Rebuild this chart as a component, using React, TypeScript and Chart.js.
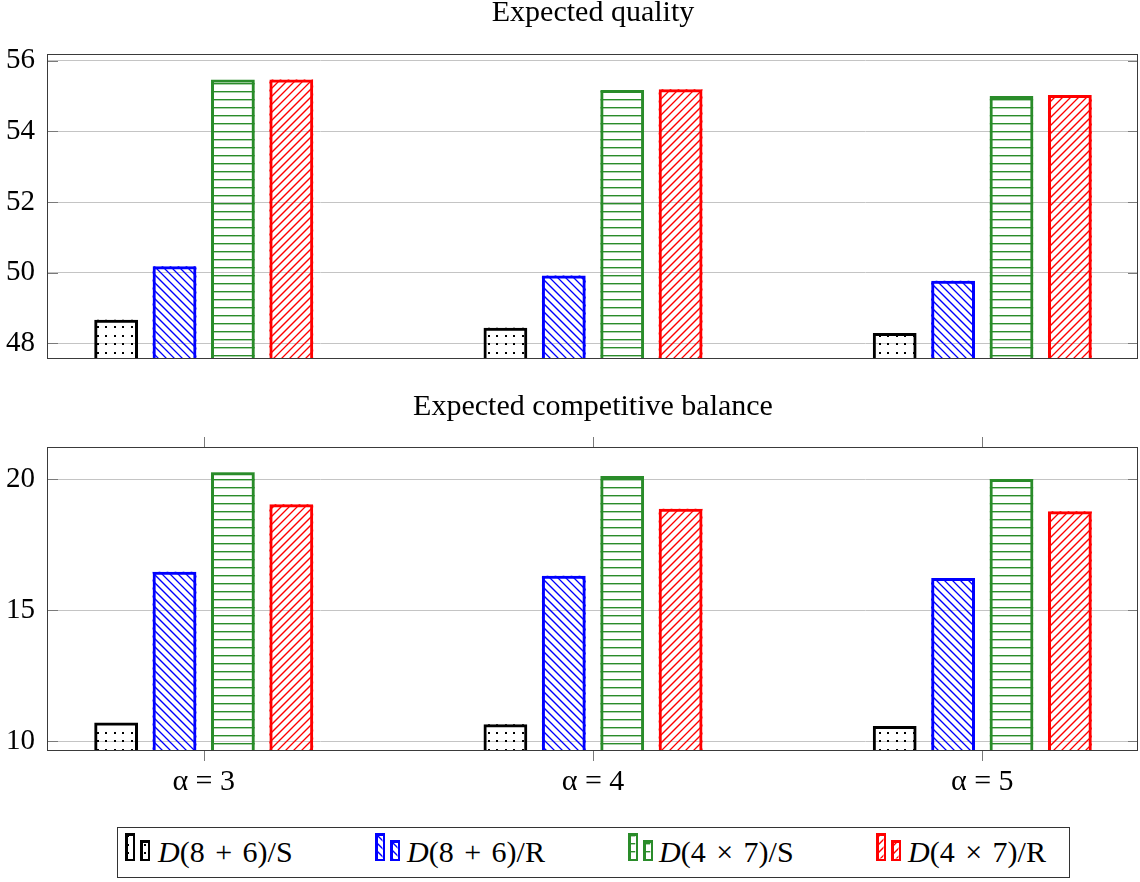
import React, { useEffect, useRef } from "react";
import { Chart, registerables } from "chart.js";

Chart.register(...registerables);

// ---------- data ----------
const alphas = [3, 4, 5];
const seriesNames = ["D(8 + 6)/S", "D(8 + 6)/R", "D(4 × 7)/S", "D(4 × 7)/R"];

const qualityD86S = [48.67, 48.44, 48.29];
const qualityD86R = [50.18, 49.92, 49.77];
const qualityD47S = [55.47, 55.17, 55.0];
const qualityD47R = [55.47, 55.19, 55.03];

const balanceD86S = [10.71, 10.64, 10.57];
const balanceD86R = [16.47, 16.31, 16.23];
const balanceD47S = [20.27, 20.13, 20.01];
const balanceD47R = [19.05, 18.87, 18.78];

const qualityTicks = [48, 50, 52, 54, 56];
const balanceTicks = [10, 15, 20];

const qualityTitle = "Expected quality";
const balanceTitle = "Expected competitive balance";

// ---------- styles ----------
const FONT = '"Liberation Serif", "Times New Roman", serif';
const seriesColors = ["#000000", "#0000ff", "#2a8c2a", "#ff0000"];
const seriesPatterns = ["dots", "nwlines", "hlines", "nelines"];

// draw a hatch pattern inside a rectangle (clipped), anchored to the canvas origin
function drawHatch(
  g: CanvasRenderingContext2D,
  kind: string,
  color: string,
  x0: number,
  y0: number,
  x1: number,
  y1: number
) {
  if (x1 <= x0 || y1 <= y0) return;
  g.save();
  g.beginPath();
  g.rect(x0, y0, x1 - x0, y1 - y0);
  g.clip();
  g.fillStyle = color;
  g.strokeStyle = color;
  g.lineWidth = 1.3;
  if (kind === "dots") {
    const s = 8.5;
    for (let gy = Math.floor(y0 / s) * s; gy < y1; gy += s) {
      for (let gx = Math.floor(x0 / s) * s; gx < x1; gx += s) {
        g.fillRect(Math.round(gx + 3), Math.round(gy + 3), 2, 2);
      }
    }
  } else if (kind === "hlines") {
    const s = 8;
    for (let gy = Math.floor(y0 / s) * s; gy < y1; gy += s) {
      g.fillRect(x0, gy + 3, x1 - x0, 1.4);
    }
  } else if (kind === "nwlines") {
    const s = 8;
    g.beginPath();
    for (let c = Math.floor((y0 - x1) / s) * s - s; c < y1 - x0 + s; c += s) {
      g.moveTo(x0 - 2, x0 - 2 + c);
      g.lineTo(x1 + 2, x1 + 2 + c);
    }
    g.stroke();
  } else {
    const s = 8;
    g.beginPath();
    for (let c = Math.floor((x0 + y0) / s) * s - s; c < x1 + y1 + s; c += s) {
      g.moveTo(x0 - 2, c - x0 + 2);
      g.lineTo(x1 + 2, c - x1 - 2);
    }
    g.stroke();
  }
  g.restore();
}

const hatchPlugin = {
  id: "hatch",
  beforeDatasetDraw(chart: any, args: any) {
    const idx = args.index;
    const meta = chart.getDatasetMeta(idx);
    const { ctx, chartArea } = chart;
    for (const el of meta.data) {
      const p = el.getProps(["x", "y", "base", "width"], true);
      const left = p.x - p.width / 2;
      const right = p.x + p.width / 2;
      const top = Math.max(Math.min(p.y, p.base), chartArea.top);
      const bottom = Math.min(Math.max(p.y, p.base), chartArea.bottom);
      drawHatch(ctx, seriesPatterns[idx], seriesColors[idx], left, top, right, bottom);
    }
  },
};

const framePlugin = {
  id: "frame",
  afterDatasetsDraw(chart: any, _args: any, opts: any) {
    const { ctx, chartArea } = chart;
    const left = Math.round(chartArea.left);
    const right = Math.round(chartArea.right);
    const top = Math.round(chartArea.top);
    const bottom = Math.round(chartArea.bottom);
    ctx.save();
    ctx.lineWidth = 1;
    ctx.strokeStyle = "#7a7a7a";
    const ys = chart.scales.y;
    ctx.beginPath();
    for (const t of ys.ticks) {
      const y = Math.round(ys.getPixelForValue(t.value)) + 0.5;
      ctx.moveTo(left, y);
      ctx.lineTo(left + 10, y);
      ctx.moveTo(right - 10, y);
      ctx.lineTo(right, y);
    }
    if (opts && opts.xTicks) {
      const xs = chart.scales.x;
      for (const t of xs.ticks) {
        const x = Math.round(xs.getPixelForValue(t.value)) + 0.5;
        ctx.moveTo(x, top - 11);
        ctx.lineTo(x, top);
        ctx.moveTo(x, bottom);
        ctx.lineTo(x, bottom + 10);
      }
    }
    ctx.stroke();
    ctx.strokeStyle = "#3a3a3a";
    ctx.strokeRect(left - 0.5, top - 0.5, right - left, bottom - top);
    ctx.restore();
  },
};

type PanelProps = {
  title: string;
  values: number[][];
  yMin: number;
  yMax: number;
  yTicks: number[];
  showX: boolean;
  height: number;
  titleTop: number;
  titleBottom: number;
  bottomPad: number;
};

function Panel(p: PanelProps) {
  const ref = useRef<HTMLCanvasElement>(null);
  useEffect(() => {
    const canvas = ref.current!;
    const chart = new Chart(canvas, {
      type: "bar",
      data: {
        labels: alphas,
        datasets: p.values.map((vals, i) => ({
          label: seriesNames[i],
          data: vals,
          backgroundColor: "rgba(0,0,0,0)",
          borderColor: seriesColors[i],
          borderWidth: 3,
          borderSkipped: false,
          barPercentage: 0.75,
          categoryPercentage: 0.6,
        })),
      },
      options: {
        responsive: false,
        animation: false,
        events: [],
        layout: { padding: { left: 0, right: 2, top: 0, bottom: p.bottomPad } },
        plugins: {
          legend: { display: false },
          tooltip: { enabled: false },
          title: {
            display: true,
            text: p.title,
            color: "#000",
            fullSize: false,
            font: { family: FONT, size: 30, weight: "normal", lineHeight: 0.9 },
            padding: { top: p.titleTop, bottom: p.titleBottom },
          },
          frame: { xTicks: p.showX },
        } as any,
        scales: {
          x: {
            type: "linear",
            min: 2.6,
            max: 5.4,
            offset: false,
            display: p.showX,
            grid: { display: false, drawTicks: false },
            border: { display: false },
            afterBuildTicks: (s: any) => {
              s.ticks = alphas.map((v) => ({ value: v }));
            },
            afterFit: (s: any) => {
              s.height = p.showX ? 60 : 0;
            },
            ticks: {
              padding: 13,
              color: "#000",
              maxRotation: 0,
              font: { family: FONT, size: 30 },
              callback: (v: any) => `α = ${v}`,
            },
          },
          y: {
            type: "linear",
            min: p.yMin,
            max: p.yMax,
            beginAtZero: false,
            grid: { color: "#c4c4c4", lineWidth: 1, drawTicks: false },
            border: { display: false },
            afterBuildTicks: (s: any) => {
              s.ticks = p.yTicks.map((v) => ({ value: v }));
            },
            afterFit: (s: any) => {
              s.width = 48;
            },
            ticks: {
              padding: 13,
              color: "#000",
              font: { family: FONT, size: 29 },
            },
          },
        } as any,
      },
      plugins: [hatchPlugin, framePlugin],
    } as any);
    return () => chart.destroy();
  }, []);
  return <canvas ref={ref} width={1140} height={p.height} style={{ display: "block" }} />;
}

function LegendIcon({ idx }: { idx: number }) {
  const ref = useRef<HTMLCanvasElement>(null);
  useEffect(() => {
    const c = ref.current!;
    const g = c.getContext("2d")!;
    g.clearRect(0, 0, c.width, c.height);
    const rects = [
      [1, 1, 10, 28],
      [16, 8, 10, 21],
    ];
    for (const [x, y, w, h] of rects) {
      g.fillStyle = seriesColors[idx];
      g.fillRect(x, y, w, h);
      g.clearRect(x + 2.5, y + 2.5, w - 5, h - 5);
      drawHatch(g, seriesPatterns[idx], seriesColors[idx], x + 2.5, y + 2.5, x + w - 2.5, y + h - 2.5);
    }
  }, [idx]);
  return <canvas ref={ref} width={28} height={30} style={{ display: "block" }} />;
}

const legendIconLeft = [6, 256, 509, 757];
const legendTextLeft = [40, 289, 541, 790];

function Legend() {
  return (
    <div
      style={{
        position: "absolute",
        left: 117,
        top: 827,
        width: 953,
        height: 51,
        border: "1px solid #333",
        boxSizing: "border-box",
        background: "#fff",
      }}
    >
      {seriesNames.map((name, i) => (
        <React.Fragment key={name}>
          <div style={{ position: "absolute", left: legendIconLeft[i], top: 4 }}>
            <LegendIcon idx={i} />
          </div>
          <div
            style={{
              position: "absolute",
              left: legendTextLeft[i],
              top: 6,
              height: 36,
              lineHeight: "36px",
              fontFamily: FONT,
              fontSize: 30,
              wordSpacing: 3,
              color: "#000",
              whiteSpace: "nowrap",
            }}
          >
            <span style={{ fontStyle: "italic" }}>{name.charAt(0)}</span>
            {name.slice(1)}
          </div>
        </React.Fragment>
      ))}
    </div>
  );
}

export default function App() {
  return (
    <div
      style={{
        position: "absolute",
        left: 0,
        top: 0,
        width: 1140,
        height: 882,
        background: "#fff",
        overflow: "hidden",
      }}
    >
      <div style={{ position: "absolute", left: 0, top: 0 }}>
        <Panel
          title={qualityTitle}
          values={[qualityD86S, qualityD86R, qualityD47S, qualityD47R]}
          yMin={47.556}
          yMax={56.161}
          yTicks={qualityTicks}
          showX={false}
          height={400}
          titleTop={0}
          titleBottom={28}
          bottomPad={41}
        />
      </div>
      <div style={{ position: "absolute", left: 0, top: 380 }}>
        <Panel
          title={balanceTitle}
          values={[balanceD86S, balanceD86R, balanceD47S, balanceD47R]}
          yMin={9.618}
          yMax={21.196}
          yTicks={balanceTicks}
          showX={true}
          height={440}
          titleTop={14}
          titleBottom={27}
          bottomPad={9}
        />
      </div>
      <Legend />
    </div>
  );
}
